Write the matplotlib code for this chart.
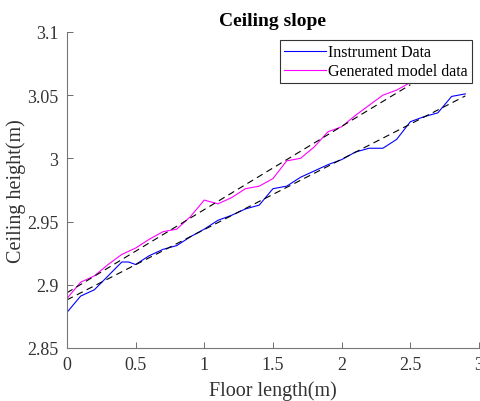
import numpy as np
import matplotlib
matplotlib.use("Agg")
import matplotlib.pyplot as plt

# =========================
# DATA
# =========================
floor_len = [0.0, 0.1, 0.2, 0.3, 0.4, 0.45, 0.5, 0.6, 0.7, 0.8, 0.9, 1.0,
             1.1, 1.2, 1.3, 1.4, 1.5, 1.6, 1.7, 1.8, 1.9, 2.0, 2.1, 2.2,
             2.3, 2.4, 2.5, 2.6, 2.7, 2.8, 2.9]
instrument = [2.878, 2.891, 2.896, 2.907, 2.918, 2.918, 2.916, 2.923, 2.928,
              2.931, 2.938, 2.944, 2.951, 2.955, 2.960, 2.963, 2.976, 2.978,
              2.985, 2.990, 2.995, 2.999, 3.005, 3.008, 3.008, 3.015, 3.029,
              3.033, 3.036, 3.049, 3.051]

model_len = [0.0, 0.1, 0.2, 0.3, 0.4, 0.5, 0.6, 0.7, 0.8, 0.9, 1.0, 1.1,
             1.2, 1.3, 1.4, 1.5, 1.6, 1.7, 1.8, 1.9, 2.0, 2.1, 2.2, 2.3,
             2.4, 2.5]
model = [2.889, 2.902, 2.907, 2.916, 2.924, 2.929, 2.936, 2.942, 2.944,
         2.954, 2.967, 2.964, 2.969, 2.976, 2.978, 2.984, 2.998, 3.000,
         3.009, 3.021, 3.025, 3.034, 3.042, 3.050, 3.054, 3.060]

x_ticks = [0, 0.5, 1, 1.5, 2, 2.5, 3]
x_tick_labels = ["0", "0.5", "1", "1.5", "2", "2.5", "3"]
y_ticks = [2.85, 2.9, 2.95, 3.0, 3.05, 3.1]
y_tick_labels = ["2.85", "2.9", "2.95", "3", "3.05", "3.1"]

# =========================
# PLOT
# =========================
plt.rcParams["font.family"] = ["Liberation Serif", "DejaVu Serif"]

fig = plt.figure(figsize=(4.81, 4.02), dpi=100)
ax = fig.add_axes([0.139, 0.132, 0.857, 0.786])

ax.plot(floor_len, instrument, color="#0000ff", lw=0.8, label="Instrument Data")
ax.plot(model_len, model, color="#ff00ff", lw=0.8, label="Generated model data")

# linear fits
p1 = np.polyfit(floor_len, instrument, 1)
p2 = np.polyfit(model_len, model, 1)
ax.plot(floor_len, np.polyval(p1, floor_len), "k--", lw=0.8, dashes=(6, 4))
ax.plot(model_len, np.polyval(p2, model_len), "k--", lw=0.8, dashes=(6, 4))

ax.set_xlim(0, 3)
ax.set_ylim(2.85, 3.1)
ax.set_xticks(x_ticks)
ax.set_xticklabels(x_tick_labels)
ax.set_yticks(y_ticks)
ax.set_yticklabels(y_tick_labels)
ax.tick_params(direction="in", length=4, width=0.6, colors="#555555",
               labelsize=13, labelcolor="#333333", pad=6)
ax.spines["top"].set_visible(False)
ax.spines["right"].set_visible(False)
for s in ["left", "bottom"]:
    ax.spines[s].set_color("#777777")
    ax.spines[s].set_linewidth(0.8)

ax.set_title("Ceiling slope", fontsize=14, fontweight="bold", pad=5)
ax.set_xlabel("Floor length(m)", fontsize=14.5, color="#333333", labelpad=5)
ax.set_ylabel("Ceiling height(m)", fontsize=14.5, color="#333333", labelpad=1)

leg = ax.legend(loc="upper right", fontsize=11.5, frameon=True, fancybox=False,
                edgecolor="#333333", framealpha=1, handlelength=2.6,
                borderpad=0.25, labelspacing=0.2, handletextpad=0.15,
                borderaxespad=0.0, bbox_to_anchor=(0.982, 0.974))
leg.get_frame().set_linewidth(0.8)

fig.savefig("out.png", dpi=100)
